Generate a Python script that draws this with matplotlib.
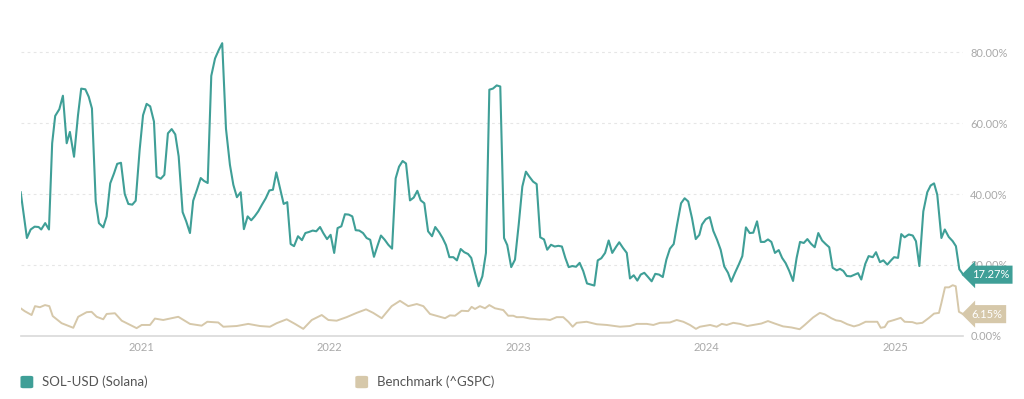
import matplotlib
matplotlib.use("Agg")
import matplotlib.pyplot as plt
from matplotlib.ticker import FuncFormatter

plt.rcParams['font.family'] = ['Lato', 'DejaVu Sans']

# ---- data (decimal year, volatility %) ----
sol_x = [2020.362, 2020.395, 2020.415, 2020.436, 2020.457, 2020.471, 2020.492, 2020.512, 2020.529, 2020.545,
         2020.567, 2020.586, 2020.606, 2020.623, 2020.645, 2020.666, 2020.683, 2020.705, 2020.723, 2020.740,
         2020.760, 2020.777, 2020.800, 2020.818, 2020.837, 2020.857, 2020.874, 2020.894, 2020.914, 2020.933,
         2020.954, 2020.972, 2020.993, 2021.011, 2021.030, 2021.049, 2021.069, 2021.083, 2021.105, 2021.124,
         2021.143, 2021.163, 2021.182, 2021.200, 2021.221, 2021.240, 2021.260, 2021.277, 2021.297, 2021.317,
         2021.334, 2021.354, 2021.373, 2021.393, 2021.412, 2021.431, 2021.451, 2021.472, 2021.490, 2021.509,
         2021.529, 2021.546, 2021.566, 2021.585, 2021.603, 2021.622, 2021.642, 2021.662, 2021.681, 2021.700,
         2021.718, 2021.737, 2021.757, 2021.776, 2021.794, 2021.812, 2021.833, 2021.854, 2021.872, 2021.891,
         2021.911, 2021.930, 2021.950, 2021.967, 2021.987, 2022.006, 2022.025, 2022.043, 2022.063, 2022.082,
         2022.102, 2022.121, 2022.139, 2022.158, 2022.178, 2022.197, 2022.216, 2022.236, 2022.254, 2022.273,
         2022.293, 2022.312, 2022.332, 2022.351, 2022.369, 2022.388, 2022.406, 2022.427, 2022.447, 2022.466,
         2022.484, 2022.503, 2022.523, 2022.544, 2022.561, 2022.582, 2022.600, 2022.618, 2022.636, 2022.657,
         2022.676, 2022.696, 2022.715, 2022.735, 2022.752, 2022.772, 2022.791, 2022.811, 2022.830, 2022.848,
         2022.867, 2022.887, 2022.906, 2022.926, 2022.943, 2022.964, 2022.984, 2023.004, 2023.023, 2023.042,
         2023.060, 2023.080, 2023.099, 2023.118, 2023.138, 2023.155, 2023.175, 2023.195, 2023.214, 2023.233,
         2023.251, 2023.269, 2023.288, 2023.308, 2023.327, 2023.346, 2023.366, 2023.386, 2023.405, 2023.423,
         2023.442, 2023.462, 2023.481, 2023.500, 2023.520, 2023.537, 2023.557, 2023.577, 2023.594, 2023.614,
         2023.633, 2023.651, 2023.670, 2023.690, 2023.709, 2023.728, 2023.748, 2023.768, 2023.787, 2023.806,
         2023.826, 2023.844, 2023.865, 2023.884, 2023.903, 2023.923, 2023.943, 2023.962, 2023.976, 2023.996,
         2024.017, 2024.036, 2024.056, 2024.075, 2024.094, 2024.114, 2024.131, 2024.151, 2024.171, 2024.190,
         2024.209, 2024.229, 2024.248, 2024.268, 2024.288, 2024.307, 2024.326, 2024.344, 2024.363, 2024.383,
         2024.401, 2024.420, 2024.439, 2024.459, 2024.478, 2024.496, 2024.516, 2024.535, 2024.554, 2024.574,
         2024.593, 2024.613, 2024.632, 2024.651, 2024.669, 2024.691, 2024.708, 2024.726, 2024.744, 2024.765,
         2024.786, 2024.804, 2024.821, 2024.842, 2024.860, 2024.882, 2024.899, 2024.920, 2024.938, 2024.959,
         2024.977, 2024.995, 2025.016, 2025.033, 2025.051, 2025.073, 2025.094, 2025.111, 2025.129, 2025.150,
         2025.171, 2025.189, 2025.207, 2025.224, 2025.246, 2025.264, 2025.285, 2025.306, 2025.323, 2025.341,
         2025.362]
sol_y = [40.5, 27.6, 30.0, 30.8, 30.7, 30.0, 31.8, 30.0, 54.3, 62.0,
         63.9, 67.7, 54.3, 57.5, 50.5, 62.2, 69.7, 69.5, 67.4, 64.1,
         37.9, 31.8, 30.6, 33.7, 43.0, 45.8, 48.5, 48.8, 40.0, 37.2,
         37.0, 38.1, 52.4, 62.2, 65.4, 64.7, 60.4, 44.9, 44.3, 45.4,
         57.1, 58.3, 56.8, 50.6, 34.9, 32.3, 29.0, 38.1, 41.2, 44.5,
         43.7, 43.1, 73.3, 78.2, 80.5, 82.5, 58.4, 48.2, 42.6, 39.1,
         40.5, 30.1, 33.7, 32.6, 33.7, 35.1, 37.0, 38.8, 41.0, 41.2,
         46.1, 41.7, 37.2, 37.7, 25.9, 25.3, 28.1, 27.0, 29.0, 29.3,
         29.7, 29.5, 30.7, 29.0, 27.3, 28.5, 23.4, 30.4, 30.9, 34.3,
         34.2, 33.7, 29.8, 29.7, 29.0, 27.6, 27.1, 22.3, 25.3, 28.3,
         27.1, 25.7, 24.6, 44.4, 47.7, 49.3, 48.6, 38.2, 39.0, 40.9,
         38.2, 37.4, 29.5, 28.1, 30.7, 29.2, 27.6, 25.6, 22.2, 22.2,
         21.3, 24.5, 23.6, 23.1, 22.0, 17.8, 14.0, 16.8, 23.4, 69.4,
         69.7, 70.6, 70.3, 27.6, 25.6, 19.4, 21.5, 31.5, 42.1, 46.3,
         44.9, 43.5, 42.8, 27.8, 27.2, 24.3, 25.7, 25.2, 25.4, 25.2,
         22.0, 19.4, 19.7, 19.5, 20.6, 18.3, 14.8, 14.5, 14.2, 21.3,
         21.9, 23.4, 26.9, 23.4, 25.1, 26.4, 24.8, 23.4, 16.2, 17.1,
         15.6, 17.3, 17.8, 16.6, 15.4, 17.5, 17.3, 16.6, 21.5, 24.6,
         25.9, 31.4, 37.4, 38.8, 37.9, 33.2, 27.3, 28.5, 31.4, 32.9,
         33.5, 29.6, 27.1, 24.3, 19.6, 17.8, 15.3, 17.8, 20.1, 22.5,
         30.6, 29.0, 29.1, 32.3, 26.5, 26.5, 27.2, 26.5, 23.4, 24.2,
         22.0, 20.5, 18.3, 15.5, 22.0, 26.5, 26.2, 27.3, 26.0, 25.0,
         29.0, 26.9, 25.9, 25.0, 19.2, 18.5, 18.9, 18.3, 16.9, 16.8,
         17.3, 17.7, 15.9, 20.3, 22.5, 22.2, 23.6, 20.8, 21.3, 20.1,
         21.2, 22.2, 22.0, 28.7, 27.8, 28.6, 28.3, 26.7, 19.7, 35.1,
         40.5, 42.4, 43.0, 39.8, 27.6, 30.0, 27.9, 26.7, 25.3, 18.8,
         17.27]

bm_x = [2020.362, 2020.383, 2020.420, 2020.438, 2020.464, 2020.491, 2020.514, 2020.532, 2020.579, 2020.641,
        2020.667, 2020.712, 2020.738, 2020.765, 2020.800, 2020.818, 2020.862, 2020.898, 2020.977, 2021.004,
        2021.048, 2021.074, 2021.118, 2021.154, 2021.198, 2021.260, 2021.322, 2021.352, 2021.410, 2021.437,
        2021.508, 2021.569, 2021.631, 2021.684, 2021.720, 2021.773, 2021.817, 2021.861, 2021.906, 2021.959,
        2021.994, 2022.038, 2022.091, 2022.144, 2022.194, 2022.232, 2022.277, 2022.330, 2022.374, 2022.418,
        2022.463, 2022.498, 2022.533, 2022.586, 2022.613, 2022.639, 2022.666, 2022.701, 2022.736, 2022.754,
        2022.772, 2022.798, 2022.825, 2022.848, 2022.878, 2022.922, 2022.948, 2022.975, 2022.993, 2023.028,
        2023.064, 2023.108, 2023.143, 2023.170, 2023.205, 2023.240, 2023.267, 2023.290, 2023.311, 2023.364,
        2023.418, 2023.471, 2023.541, 2023.594, 2023.630, 2023.683, 2023.718, 2023.753, 2023.806, 2023.842,
        2023.877, 2023.912, 2023.944, 2023.965, 2024.019, 2024.054, 2024.081, 2024.107, 2024.142, 2024.178,
        2024.216, 2024.247, 2024.291, 2024.326, 2024.362, 2024.406, 2024.450, 2024.494, 2024.521, 2024.565,
        2024.601, 2024.627, 2024.662, 2024.687, 2024.712, 2024.747, 2024.782, 2024.809, 2024.844, 2024.906,
        2024.924, 2024.945, 2024.963, 2024.995, 2025.030, 2025.051, 2025.092, 2025.115, 2025.145, 2025.180,
        2025.207, 2025.233, 2025.246, 2025.265, 2025.286, 2025.306, 2025.322, 2025.339, 2025.362]
bm_y = [7.8, 7.0, 5.9, 8.4, 8.1, 8.7, 8.4, 5.6, 3.6, 2.3,
        5.4, 6.7, 6.8, 5.4, 4.7, 6.2, 6.4, 4.3, 2.2, 3.1,
        3.1, 4.9, 4.5, 4.9, 5.4, 3.4, 2.9, 4.0, 3.8, 2.6,
        2.8, 3.4, 2.8, 2.6, 3.6, 4.7, 3.4, 2.0, 4.5, 5.9,
        4.5, 4.3, 5.3, 6.5, 7.5, 6.5, 5.0, 8.4, 9.9, 8.4,
        9.0, 8.4, 6.2, 5.4, 5.0, 5.8, 5.7, 7.1, 7.0, 8.2,
        7.6, 8.4, 7.8, 8.7, 7.8, 7.3, 5.7, 5.7, 5.3, 5.3,
        4.9, 4.7, 4.7, 4.5, 5.3, 5.3, 4.0, 2.6, 3.7, 4.0,
        3.3, 3.1, 2.6, 2.8, 3.4, 3.4, 3.1, 3.7, 3.8, 4.5,
        4.0, 3.1, 2.0, 2.6, 3.1, 2.6, 3.4, 3.1, 3.7, 3.4,
        2.8, 3.1, 3.5, 4.2, 3.5, 2.7, 2.4, 1.9, 3.1, 5.2,
        6.5, 6.1, 5.0, 4.4, 4.2, 3.3, 2.7, 3.1, 4.0, 4.0,
        2.3, 2.5, 4.0, 4.5, 5.1, 4.0, 3.9, 3.5, 3.7, 5.1,
        6.3, 6.5, 9.3, 13.7, 13.7, 14.3, 14.0, 6.8, 6.15]

year_ticks = [2021, 2022, 2023, 2024, 2025]
y_ticks = [0, 20, 40, 60, 80]
series_names = ["SOL-USD (Solana)", "Benchmark (^GSPC)"]

SOL_C = "#3f9f97"
BM_C = "#d6c8aa"
GRID_C = "#e6e6e6"
TXT_C = "#a9a9a9"

fig = plt.figure(figsize=(10.24, 3.99), dpi=100)
ax = fig.add_axes([0.0202, 0.158, 0.9205, 0.756])

ax.plot(bm_x, bm_y, color=BM_C, lw=1.4, solid_joinstyle='round', zorder=2)
ax.plot(sol_x, sol_y, color=SOL_C, lw=1.5, solid_joinstyle='round', zorder=3)

ax.set_xlim(sol_x[0], sol_x[-1])
ax.set_ylim(0, 85)

for s in ['top', 'left', 'right']:
    ax.spines[s].set_visible(False)
ax.spines['bottom'].set_color("#d9d9d9")
ax.spines['bottom'].set_linewidth(1.2)

ax.set_yticks(y_ticks)
ax.yaxis.tick_right()
ax.yaxis.set_major_formatter(FuncFormatter(lambda v, p: f"{v:.2f}%"))
ax.tick_params(axis='y', length=0, pad=5, labelsize=8, labelcolor=TXT_C)
for yv in y_ticks[1:]:
    ax.axhline(yv, color=GRID_C, lw=0.8, ls=(0, (2.5, 3)), zorder=1)

ax.set_xticks(year_ticks)
ax.set_xticklabels([str(y) for y in year_ticks])
ax.tick_params(axis='x', length=0, pad=4, labelsize=8, labelcolor=TXT_C)

# end-value labels
for xs, ys, col in [(sol_x, sol_y, SOL_C), (bm_x, bm_y, BM_C)]:
    ax.annotate(f"{ys[-1]:.2f}%", xy=(xs[-1], ys[-1]), xytext=(6, 0),
                textcoords='offset points', ha='left', va='center',
                fontsize=8, color='white', annotation_clip=False,
                bbox=dict(boxstyle='larrow,pad=0.32', fc=col, ec='none'))

# legend
for i, (name, col) in enumerate(zip(series_names, [SOL_C, BM_C])):
    lx = 0.02 + i * 0.327
    fig.patches.append(matplotlib.patches.FancyBboxPatch(
        (lx, 0.027), 0.0125, 0.031, boxstyle='round,pad=0,rounding_size=0.003',
        transform=fig.transFigure, fc=col, ec='none'))
    fig.text(lx + 0.021, 0.043, name, fontsize=9.5, color="#555555", va='center', ha='left')

fig.savefig("out.png", dpi=100, facecolor='white')
